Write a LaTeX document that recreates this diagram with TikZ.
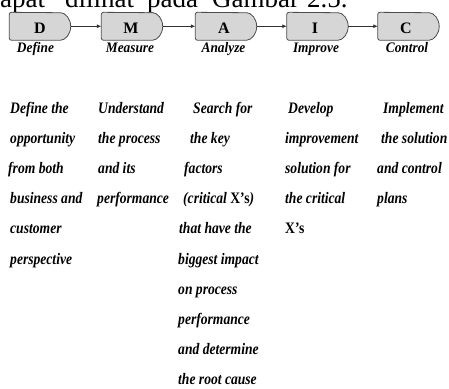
\documentclass[tikz,border=0pt]{standalone}
\usepackage{fontspec}
\setmainfont{Liberation Serif}
\newfontfamily\stepfont[FakeStretch=0.85]{Liberation Serif}
\newfontfamily\labelfont[FakeStretch=0.92]{Liberation Serif}
\usetikzlibrary{arrows.meta,calc}

% D-shaped phase box drawn around a named (invisible) node
\newcommand\phasebox[1]{%
  \draw[boxline] (#1.south west) -- ($(#1.south east)+(-12,0)$)
    arc[start angle=-90,end angle=90,x radius=12pt,y radius=13.75pt]
    -- (#1.north west) -- cycle;}

\begin{document}
\begin{tikzpicture}[x=1pt,y=1pt,
  phase/.style={minimum width=61pt,minimum height=27.5pt,inner sep=0pt},
  boxline/.style={draw=black!70,fill=black!16,line width=0.8pt,rounded corners=2pt},
  letter/.style={anchor=base,inner sep=0pt,font=\fontsize{16}{16}\selectfont\bfseries},
  phaselabel/.style={anchor=base,inner sep=0pt,font=\labelfont\fontsize{14.5}{14.5}\selectfont\bfseries\itshape},
  flow/.style={-{Latex[length=4.5pt,width=4pt]},line width=0.8pt,draw=black!80},
  body/.style={anchor=base west,inner sep=0pt,font=\stepfont\fontsize{16}{16}\selectfont\bfseries\itshape},
  caption/.style={anchor=base west,inner sep=0pt,font=\fontsize{27}{27}\selectfont}]
\clip (0,0) rectangle (449,-388);
\fill[white] (0,0) rectangle (449,-388);

% line of running text above the figure
\node[caption] (w1) at (-13.5,-7) {dapat};
\node[caption] (w2) at (65,-7) {dilihat};
\node[caption] (w3) at (147,-7) {pada};
\node[caption] (w4) at (212,-7) {Gambar};
\node[caption] (w5) at (307,-7) {2.5.};

% DMAIC phases
\node[phase] (d) at (40,-26.25) {};
\node[phase] (m) at (132,-26.25) {};
\node[phase] (a) at (226,-26.25) {};
\node[phase] (i) at (317.5,-26.25) {};
\node[phase] (c) at (408.5,-26.25) {};
\foreach \n in {d,m,a,i,c} {\phasebox{\n}}

\node[letter] (dl) at (40,-33.5) {D};
\node[letter] (ml) at (131,-33.5) {M};
\node[letter] (al) at (224,-33.5) {A};
\node[letter] (il) at (315,-33.5) {I};
\node[letter] (cl) at (406,-33.5) {C};

\draw[flow] (d.east) -- (m.west);
\draw[flow] (m.east) -- (a.west);
\draw[flow] (a.east) -- (i.west);
\draw[flow] (i.east) -- (c.west);

\node[phaselabel] (dn) at (35.5,-52) {Define};
\node[phaselabel] (mn) at (130,-52) {Measure};
\node[phaselabel] (an) at (223.5,-52) {Analyze};
\node[phaselabel] (in) at (316,-52) {Improve};
\node[phaselabel] (cn) at (407,-52) {Control};

% descriptions, one line per node
\node[body] (t11) at (10,-113) {Define the};
\node[body] (t12) at (10,-143.2) {opportunity};
\node[body] (t13) at (8,-173.4) {from both};
\node[body] (t14) at (10,-203.6) {business and};
\node[body] (t15) at (10,-233.8) {customer};
\node[body] (t16) at (10,-264) {perspective};

\node[body] (t21) at (98,-113) {Understand};
\node[body] (t22) at (98,-143.2) {the process};
\node[body] (t23) at (98,-173.4) {and its};
\node[body] (t24) at (97,-203.6) {performance};

\node[body] (t31) at (193,-113) {Search for};
\node[body] (t32) at (190,-143.2) {the key};
\node[body] (t33) at (184,-173.4) {factors};
\node[body] (t34) at (183,-203.6) {(critical \textup{X’s})};
\node[body] (t35) at (179,-233.8) {that have the};
\node[body] (t36) at (178,-264) {biggest impact};
\node[body] (t37) at (178,-294.2) {on process};
\node[body] (t38) at (178,-324.4) {performance};
\node[body] (t39) at (178,-354.6) {and determine};
\node[body] (t310) at (178,-384.8) {the root cause};

\node[body] (t41) at (288,-113) {Develop};
\node[body] (t42) at (285,-143.2) {improvement};
\node[body] (t43) at (285,-173.4) {solution for};
\node[body] (t44) at (285,-203.6) {the critical};
\node[body] (t45) at (285,-233.8) {\textup{X’s}};

\node[body] (t51) at (383,-113) {Implement};
\node[body] (t52) at (381,-143.2) {the solution};
\node[body] (t53) at (377,-173.4) {and control};
\node[body] (t54) at (377,-203.6) {plans};
\end{tikzpicture}
\end{document}
